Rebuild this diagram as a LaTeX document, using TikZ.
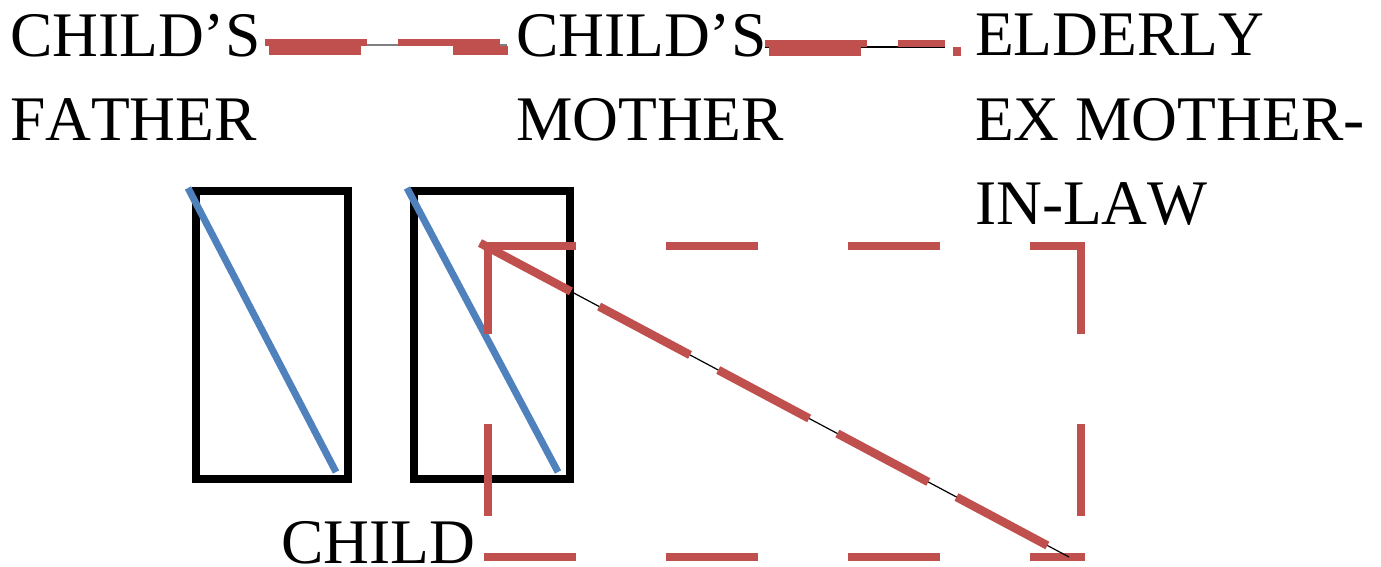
\documentclass[tikz,border=0pt]{standalone}
\usepackage{fontspec}
\setmainfont{Liberation Serif}[Kerning=Off]
\definecolor{myred}{HTML}{C0504D}
\definecolor{myblue}{HTML}{4F81BD}
\tikzset{
  lbl/.style={font=\fontsize{63.5}{84.5}\selectfont, inner sep=0pt, outer sep=0pt, align=left},
  boxst/.style={draw=black, line width=8pt, inner sep=0pt, outer sep=0pt},
  blueln/.style={draw=myblue, line width=7pt},
  rectdash/.style={draw=myred, line width=8pt, line cap=rect, dash pattern=on 84pt off 98pt},
  diagdash/.style={draw=myred, line width=8.5pt, dash pattern=on 103pt off 32pt},
  thinln/.style={draw=black, line width=1.2pt},
  thingray/.style={draw=gray, line width=1.5pt},
  upred/.style={draw=myred, line width=7pt, dash pattern=on 102pt off 31pt},
  lowred/.style={draw=myred, line width=9pt, dash pattern=on 92pt off 92pt},
}
\begin{document}
\begin{tikzpicture}[x=1pt, y=-1pt]
\useasboundingbox (0,0) rectangle (1381,567);
% labels
\node[lbl, anchor=north west] (father) at (10,14) {CHILD’S\\FATHER};
\node[lbl, anchor=north west] (mother) at (516,14) {CHILD’S\\MOTHER};
\node[lbl, anchor=north west] (elderly) at (975,14) {ELDERLY\\EX MOTHER-\\IN-LAW};
\node[lbl, anchor=base west] (child) at (281,563) {CHILD};
% boxes
\node[boxst, minimum width=152pt, minimum height=288pt] (box1) at (272,335) {};
\node[boxst, minimum width=156pt, minimum height=288pt] (box2) at (492,335) {};
\coordinate (b1s) at (188,188); \coordinate (b1e) at (336,472);
\coordinate (b2s) at (407,188); \coordinate (b2e) at (558,472);
\draw[blueln] (b1s) -- (b1e);
\draw[blueln] (b2s) -- (b2e);
% red dashed rectangle
\coordinate (r1) at (488,246); \coordinate (r2) at (1081,246);
\coordinate (r3) at (1081,557); \coordinate (r4) at (488,557);
\draw[rectdash] (r1) -- (r2);
\draw[rectdash] (r4) -- (r3);
\draw[rectdash] (r1) -- (r4);
\draw[rectdash] (r2) -- (r3);
% diagonal connector
\coordinate (dA) at (480,243); \coordinate (dB) at (1069,557);
\draw[thinln] (dA) -- (dB);
\draw[diagdash] (dA) -- (dB);
% top connectors
\coordinate (fmA) at (265,45); \coordinate (fmB) at (507,45);
\coordinate (fuA) at (265,42.5); \coordinate (fuB) at (508,42.5);
\coordinate (flA) at (269,50.5); \coordinate (flB) at (508,50.5);
\draw[thingray] (fmA) -- (fmB);
\draw[upred] (fuA) -- (fuB);
\draw[lowred] (flA) -- (flB);
\coordinate (meA) at (765,47); \coordinate (meB) at (945,47);
\coordinate (muA) at (765,44); \coordinate (muB) at (945,44);
\coordinate (mlA) at (769,52); \coordinate (mlB) at (961,52);
\draw[thinln] (meA) -- (meB);
\draw[upred] (muA) -- (muB);
\draw[lowred] (mlA) -- (mlB);
\end{tikzpicture}
\end{document}
